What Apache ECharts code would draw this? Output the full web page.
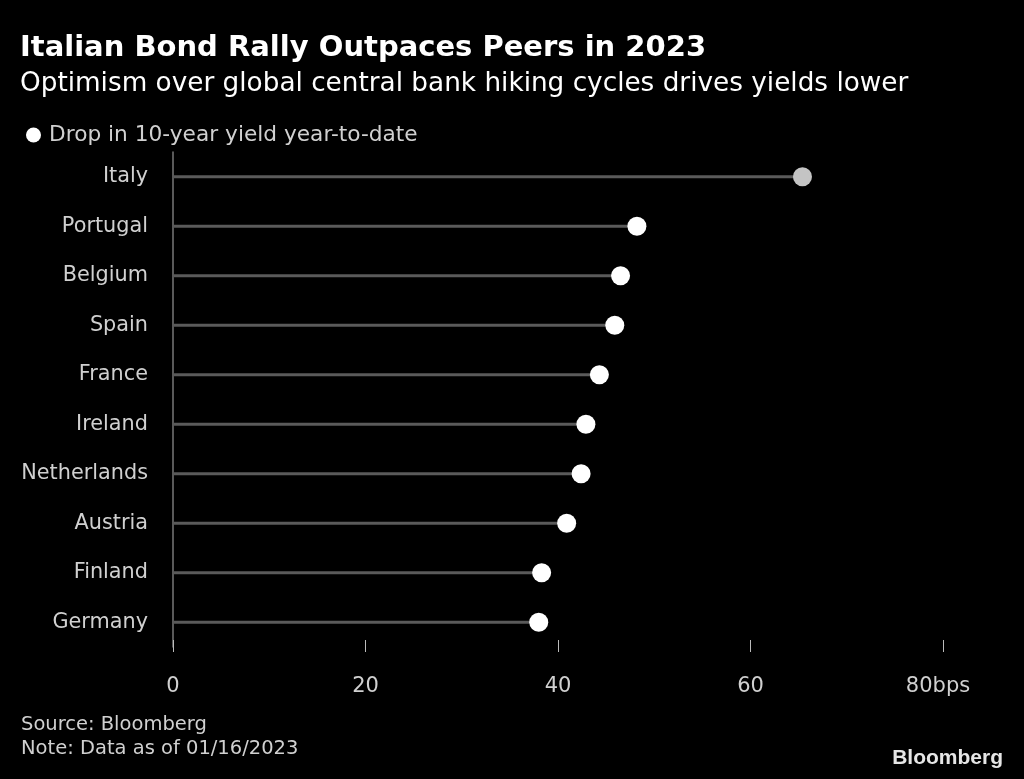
<!DOCTYPE html>
<html>
<head>
<meta charset="utf-8">
<script src="https://cdn.jsdelivr.net/npm/echarts@6/dist/echarts.min.js"></script>
<style>
html,body{margin:0;padding:0;background:#000;}
#c{width:1024px;height:779px;}
</style>
</head>
<body>
<div id="c"></div>
<script>
const countries = ["Italy","Portugal","Belgium","Spain","France","Ireland","Netherlands","Austria","Finland","Germany"];
const yieldDrop = [65.4, 48.2, 46.5, 45.9, 44.3, 42.9, 42.4, 40.9, 38.3, 38.0];
const highlighted = ["Italy"];
const xTicks = [0, 20, 40, 60, 80];
const xUnit = "bps";

const FONT = "DejaVu Sans";
const chart = echarts.init(document.getElementById('c'), null, {renderer:'canvas'});
const option = {
  backgroundColor: '#000',
  animation: false,
  textStyle: {fontFamily: FONT},
  title: [
    {text: 'Italian Bond Rally Outpaces Peers in 2023', left: 20, top: 34, padding: 0,
     textStyle: {color: '#fff', fontSize: 29, fontWeight: 'bold', fontFamily: FONT}},
    {text: 'Optimism over global central bank hiking cycles drives yields lower', left: 20, top: 71, padding: 0,
     textStyle: {color: '#fff', fontSize: 26.3, fontWeight: 'normal', fontFamily: FONT}},
    {text: 'Source: Bloomberg\nNote: Data as of 01/16/2023', left: 21, top: 713, padding: 0,
     textStyle: {color: '#d0d0d0', fontSize: 19.5, fontWeight: 'normal', lineHeight: 24, fontFamily: FONT}},
    {text: 'Bloomberg', right: 21, top: 748, padding: 0,
     textStyle: {color: '#e6e6e6', fontSize: 21, fontWeight: 'bold', fontFamily: 'Liberation Sans'}}
  ],
  legend: {
    left: 26, top: 124, padding: 0, icon: 'circle', itemWidth: 15, itemHeight: 15, itemGap: 6,
    data: ['Drop in 10-year yield year-to-date'],
    textStyle: {color: '#d0d0d0', fontSize: 21.7, fontFamily: FONT, padding: [0,0,0,3]}
  },
  grid: {left: 173, right: 81, top: 152, height: 495},
  xAxis: {
    type: 'value', min: xTicks[0], max: xTicks[xTicks.length-1], interval: 20,
    offset: 5,
    axisLine: {show: false},
    axisTick: {show: true, inside: true, length: 12, lineStyle: {color: '#bbb', width: 1}},
    splitLine: {show: false},
    axisLabel: {color: '#d0d0d0', fontSize: 21, margin: 24, fontFamily: FONT,
      formatter: v => v === xTicks[xTicks.length-1] ? '{u|' + v + xUnit + '}' : String(v),
      rich: {u: {color: '#d0d0d0', fontSize: 21, fontFamily: FONT, padding: [0, 10, 0, 0]}}}
  },
  yAxis: {
    type: 'category', data: countries, inverse: true,
    axisLine: {show: true, lineStyle: {color: '#777', width: 1.5}},
    axisTick: {show: false},
    axisLabel: {color: '#d0d0d0', fontSize: 20.8, margin: 25, fontFamily: FONT}
  },
  series: [
    {
      type: 'bar', barWidth: 3, silent: true,
      itemStyle: {color: '#5a5a5a'},
      data: yieldDrop
    },
    {
      name: 'Drop in 10-year yield year-to-date',
      type: 'scatter', symbol: 'circle', symbolSize: 19,
      itemStyle: {color: '#ffffff', opacity: 1},
      data: yieldDrop.map((v, i) => ({
        value: [v, countries[i]],
        itemStyle: {color: highlighted.includes(countries[i]) ? '#c4c4c4' : '#ffffff'}
      })),
      z: 5
    }
  ]
};
chart.setOption(option);
</script>
</body>
</html>
